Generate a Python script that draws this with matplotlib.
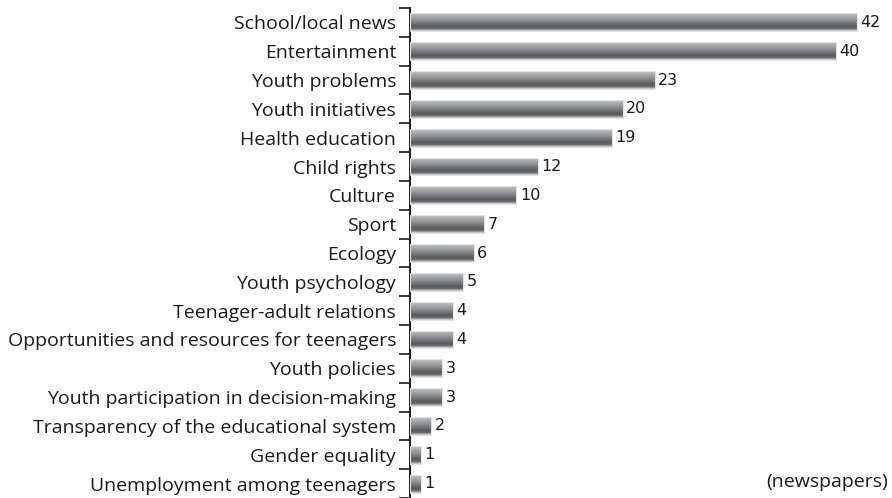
import numpy as np
import matplotlib
matplotlib.use("Agg")
import matplotlib.pyplot as plt
from matplotlib.colors import LinearSegmentedColormap

categories = [
    "School/local news",
    "Entertainment",
    "Youth problems",
    "Youth initiatives",
    "Health education",
    "Child rights",
    "Culture",
    "Sport",
    "Ecology",
    "Youth psychology",
    "Teenager-adult relations",
    "Opportunities and resources for teenagers",
    "Youth policies",
    "Youth participation in decision-making",
    "Transparency of the educational system",
    "Gender equality",
    "Unemployment among teenagers",
]
values = [42, 40, 23, 20, 19, 12, 10, 7, 6, 5, 4, 4, 3, 3, 2, 1, 1]
unit_note = "(newspapers)"

LABEL_FONT = "Open Sans"
INK = "#1a1a1a"

# vertical shading of each bar: light top, dark lower middle, pale bottom rim
bar_cmap = LinearSegmentedColormap.from_list(
    "bar", [(0.0, "#c0c3c6"), (0.35, "#939699"), (0.75, "#56595c"),
            (0.88, "#6a6d70"), (1.0, "#d9dadb")]
)

fig = plt.figure(figsize=(8.92, 4.98), dpi=100)
ax = fig.add_axes([410 / 892, 0.0, 1 - 410 / 892, 1 - 8 / 498])

y = np.arange(len(categories))
bar_h = 0.62
bars = ax.barh(y, values, height=bar_h, color="none", edgecolor="none")

grad = np.linspace(0, 1, 64).reshape(-1, 1)
for bar in bars:
    x0, y0 = bar.get_x(), bar.get_y()
    w, h = bar.get_width(), bar.get_height()
    im = ax.imshow(grad, cmap=bar_cmap, aspect="auto",
                   extent=(x0, x0 + w, y0 + h, y0), zorder=2,
                   interpolation="bilinear")
    im.set_clip_path(bar)
    ax.add_patch(plt.Rectangle((x0, y0), w, h, fill=False,
                               edgecolor="#e2e3e4", linewidth=0.8, zorder=3))

for yi, v in zip(y, values):
    ax.annotate(str(v), (v, yi), xytext=(2.5, 0), textcoords="offset points",
                ha="left", va="center", fontsize=11.5, color=INK,
                family="DejaVu Sans")

ax.set_xlim(0, 45.3)
ax.set_ylim(16.36, -0.5)

ax.set_yticks(y)
ax.set_yticklabels(categories, fontsize=14, family=LABEL_FONT, color=INK)
ax.tick_params(axis="y", which="major", length=0, pad=10)
ax.set_yticks(np.arange(-0.5, len(categories), 1.0), minor=True)
ax.tick_params(axis="y", which="minor", length=8, width=1.2, color=INK)
ax.set_xticks([])

for spine in ("top", "right", "bottom"):
    ax.spines[spine].set_visible(False)
ax.spines["left"].set_color(INK)
ax.spines["left"].set_linewidth(1.4)

fig.text(888 / 892, 1 - 482 / 498, unit_note, ha="right", va="center",
         fontsize=14, family=LABEL_FONT, color=INK)

fig.savefig("out.png", dpi=100, facecolor="white")
